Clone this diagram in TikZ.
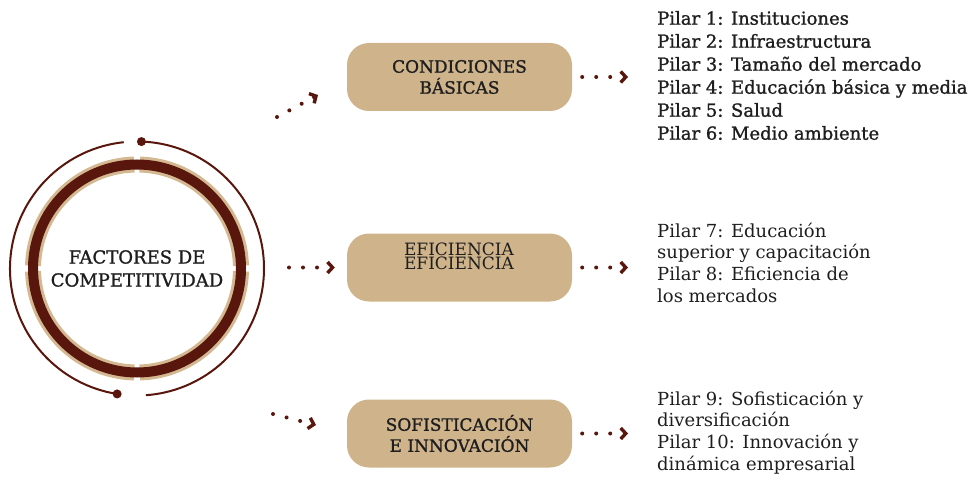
\documentclass[tikz,border=0pt]{standalone}
\usepackage{fontspec}
\setmainfont{DejaVu Serif}
\newfontfamily\heavyserif[FakeBold=1.2]{DejaVu Serif}
\usetikzlibrary{arrows.meta}
\definecolor{ringbrown}{RGB}{88,22,12}
\definecolor{ringtan}{RGB}{212,184,146}
\definecolor{boxtan}{RGB}{207,179,139}
\definecolor{inkgray}{RGB}{30,30,30}
\tikzstyle{pillarbox} = [rectangle,rounded corners=22pt,fill=boxtan,minimum width=225pt,minimum height=68pt,text=inkgray,align=center,font=\heavyserif\fontsize{17}{21}\selectfont]
\tikzstyle{pillarlist} = [anchor=west,inner sep=0pt,text=inkgray,align=left]
\tikzstyle{dotarrow} = [ringbrown,line width=4pt,line cap=round,dash pattern=on 0pt off 14pt,-{Straight Barb[length=5pt,width=11pt,line width=3.4pt]}]

\begin{document}
\begin{tikzpicture}[x=1pt,y=1pt]
	\useasboundingbox (0,0) rectangle (979,480);
	
	\node[align=center,text=inkgray,font=\heavyserif\fontsize{18}{23}\selectfont] (fc) at (137,211.5) {FACTORES DE\\COMPETITIVIDAD};
	\foreach \a in {0,90,180,270}
		\draw[ringtan,line width=16pt] ([shift={({\a+1.5}:104)}]fc.center) arc ({\a+1.5}:{\a+88.5}:104);
	\draw[ringbrown,line width=10pt] (fc.center) circle (104);
	\draw[ringbrown,line width=2pt] ([shift={(88:127)}]fc.center) arc (88:-86:127);
	\draw[ringbrown,line width=2pt] ([shift={(261:127)}]fc.center) arc (261:96:127);
	\fill[ringbrown] ([shift={(88:127)}]fc.center) circle (4.5);
	\fill[ringbrown] ([shift={(261:127)}]fc.center) circle (4.5);
	
	\node[pillarbox] (cb) at (459.5,403) {CONDICIONES\\BÁSICAS};
	\node[pillarbox] (ef) at (459.5,212.5) {};
	\node[align=center,text=inkgray,font=\fontsize{17}{5.5}\selectfont] (eft) at (459,223.5) {EFICIENCIA\\EFICIENCIA};
	\node[pillarbox] (si) at (459.5,46.5) {SOFISTICACIÓN\\E INNOVACIÓN};
	
	\node[pillarlist,font=\heavyserif\fontsize{18}{23}\selectfont] (p1) at (657,404.5) {Pilar 1: Instituciones\\Pilar 2: Infraestructura\\Pilar 3: Tamaño del mercado\\Pilar 4: Educación básica y media\\Pilar 5: Salud\\Pilar 6: Medio ambiente};
	\node[pillarlist,font=\fontsize{18}{21.7}\selectfont] (p2) at (657,217.5) {Pilar 7: Educación\\superior y capacitación\\Pilar 8: Eficiencia de\\los mercados};
	\node[pillarlist,font=\fontsize{18}{21.7}\selectfont] (p3) at (657,47.5) {Pilar 9: Sofisticación y\\diversificación\\Pilar 10: Innovación y\\dinámica empresarial};
	
	\coordinate (l1s) at (277,363);
	\coordinate (l1e) at (318,385);
	\coordinate (l2s) at (289,212.5);
	\coordinate (l3s) at (273,66);
	\coordinate (l3e) at (316,55);
	
	\draw[dotarrow] (l1s) -- (l1e);
	\draw[dotarrow,shorten >=12pt] (l2s) -- (ef.west);
	\draw[dotarrow] (l3s) -- (l3e);
	\draw[dotarrow,shorten <=10pt,shorten >=29pt] (cb.east) -- (cb.east -| p1.west);
	\draw[dotarrow,shorten <=10pt,shorten >=29pt] (ef.east) -- (ef.east -| p2.west);
	\draw[dotarrow,shorten <=10pt,shorten >=29pt] (si.east) -- (si.east -| p3.west);
\end{tikzpicture}
\end{document}
